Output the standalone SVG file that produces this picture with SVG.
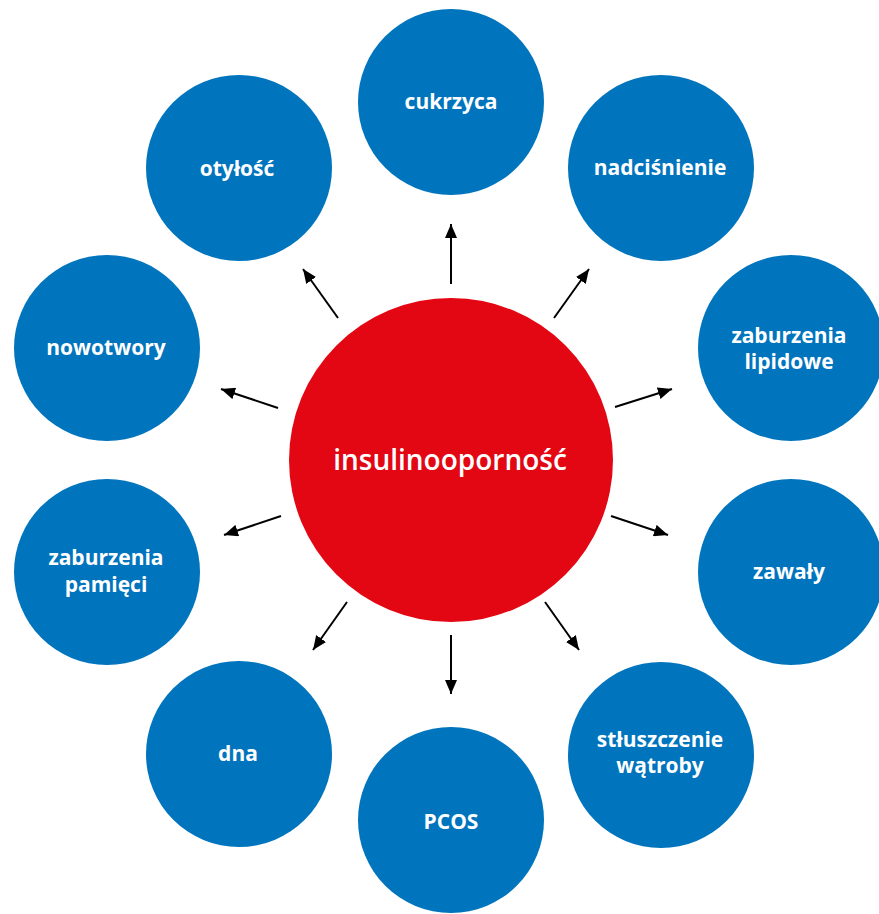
<svg xmlns="http://www.w3.org/2000/svg" width="879" height="914" viewBox="0 0 879 914">
  <style>
    .sat { fill: #0074BD; }
    .hub { fill: #E30613; }
    .lbl { font-family: "Open Sans", "Noto Sans", "DejaVu Sans", sans-serif; font-weight: 700; font-size: 21px; fill: #ffffff; text-anchor: middle; }
    .hub-lbl { font-size: 28px; font-weight: 600; }
    .arrow { stroke: #000000; stroke-width: 2; fill: none; marker-end: url(#head); }
  </style>
  <defs>
    <marker id="head" markerUnits="userSpaceOnUse" markerWidth="14" markerHeight="12" refX="14" refY="6" orient="auto">
      <path d="M0,0 L14,6 L0,12 Z" fill="#000000"/>
    </marker>
  </defs>
  <rect width="879" height="914" fill="#ffffff"/>

  <g id="connectors">
    <line class="arrow" x1="451" y1="284" x2="451" y2="224"/>
    <line class="arrow" x1="338" y1="318" x2="303" y2="269"/>
    <line class="arrow" x1="554" y1="318" x2="589" y2="269"/>
    <line class="arrow" x1="278" y1="408" x2="221" y2="389"/>
    <line class="arrow" x1="281" y1="516" x2="224" y2="535"/>
    <line class="arrow" x1="615" y1="407" x2="672" y2="389"/>
    <line class="arrow" x1="611" y1="516" x2="668" y2="535"/>
    <line class="arrow" x1="347" y1="602" x2="313" y2="650"/>
    <line class="arrow" x1="451" y1="635" x2="451" y2="694"/>
    <line class="arrow" x1="545" y1="602" x2="579" y2="650"/>
  </g>

  <g id="insulinoopornosc">
    <circle class="hub" cx="451" cy="460" r="162"/>
    <text class="lbl hub-lbl" x="450" y="470">insulinooporność</text>
  </g>

  <g id="cukrzyca">
    <circle class="sat" cx="451" cy="102" r="93"/>
    <text class="lbl" x="451" y="109">cukrzyca</text>
  </g>

  <g id="nadcisnienie">
    <circle class="sat" cx="661" cy="168" r="93"/>
    <text class="lbl" x="660" y="175">nadciśnienie</text>
  </g>

  <g id="zaburzenia-lipidowe">
    <circle class="sat" cx="791" cy="348" r="93"/>
    <text class="lbl" x="789" y="343">zaburzenia</text>
    <text class="lbl" x="789" y="369">lipidowe</text>
  </g>

  <g id="zawaly">
    <circle class="sat" cx="791" cy="572" r="93"/>
    <text class="lbl" x="789" y="579">zawały</text>
  </g>

  <g id="stluszczenie-watroby">
    <circle class="sat" cx="661" cy="755" r="93"/>
    <text class="lbl" x="660" y="747">stłuszczenie</text>
    <text class="lbl" x="660" y="773">wątroby</text>
  </g>

  <g id="pcos">
    <circle class="sat" cx="451" cy="820" r="93"/>
    <text class="lbl" x="451" y="829">PCOS</text>
  </g>

  <g id="dna">
    <circle class="sat" cx="239" cy="754" r="93"/>
    <text class="lbl" x="238" y="761">dna</text>
  </g>

  <g id="zaburzenia-pamieci">
    <circle class="sat" cx="107" cy="572" r="93"/>
    <text class="lbl" x="106" y="565">zaburzenia</text>
    <text class="lbl" x="106" y="592">pamięci</text>
  </g>

  <g id="nowotwory">
    <circle class="sat" cx="107" cy="348" r="93"/>
    <text class="lbl" x="106" y="355">nowotwory</text>
  </g>

  <g id="otylosc">
    <circle class="sat" cx="239" cy="168" r="93"/>
    <text class="lbl" x="237" y="176">otyłość</text>
  </g>
</svg>
